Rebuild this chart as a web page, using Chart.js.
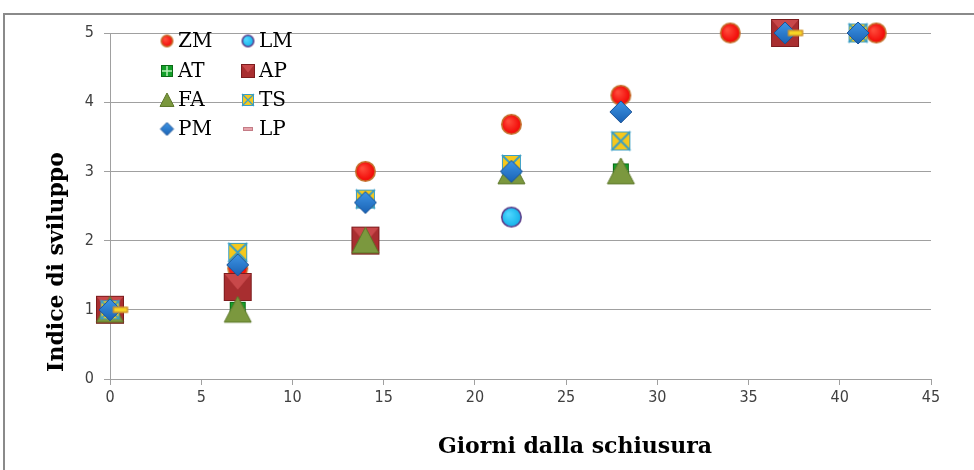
<!DOCTYPE html>
<html>
<head>
<meta charset="utf-8">
<script src="https://cdn.jsdelivr.net/npm/chart.js@4.4.0/dist/chart.umd.min.js"></script>
<style>
  body { margin: 0; background: #fff; }
  canvas { display: block; }
</style>
</head>
<body>
<canvas id="chart" width="974" height="470"></canvas>
<script>
// days after hatching, and development index per series (null = no point)
const days = [0, 7, 14, 22, 28, 34, 37, 41, 42];
const ZM = [1, 1.6, 3, 3.68, 4.1, 5, null, null, 5];
const LM = [1, null, null, 2.34, null, null, null, null, null];
const AT = [1, 1, 2, 3, 3, null, null, null, null];
const AP = [1, 1.33, 2, null, null, null, 5, null, null];
const FA = [1, 1, 2, 3, 3, null, null, null, null];
const TS = [1, 1.83, 2.6, 3.1, 3.44, null, null, 5, null];
const PM = [1, 1.65, 2.55, 3, 3.86, null, 5, 5, null];
const LP = [1, null, null, null, null, null, 5, null, null];

const seriesNames = ["ZM", "LM", "AT", "AP", "FA", "TS", "PM", "LP"];
const seriesValues = [ZM, LM, AT, AP, FA, TS, PM, LP];
const xTicks = [0, 5, 10, 15, 20, 25, 30, 35, 40, 45];
const yTicks = [0, 1, 2, 3, 4, 5];

// marker look for each series: kind, size in the plot, size in the legend
const markerKinds = ["zm", "lm", "at", "ap", "fa", "ts", "pm", "lp"];
const plotSizes = [21, 21, 16, 28, 27, 19, 22, 15];
const legendSizes = [13, 13, 12, 14, 14, 12, 13, 10];

function makeMarker(kind, s, legend) {
  const pad = 3;
  const c = document.createElement("canvas");
  // the dash marker sits to the right of its point, as in the original
  const shift = (kind === "lp" && !legend) ? s + 4 : 0;
  c.width = s + pad * 2 + shift * 2;
  c.height = s + pad * 2;
  const ctx = c.getContext("2d");
  const cx = c.width / 2 + (shift ? shift / 2 + 1 : 0), cy = c.height / 2, r = s / 2;
  ctx.lineJoin = "miter";
  if (kind === "zm" || kind === "lm") {
    const g = ctx.createRadialGradient(cx - r * 0.3, cy - r * 0.3, 1, cx, cy, r);
    if (kind === "zm") { g.addColorStop(0, "#ff4a3a"); g.addColorStop(1, "#f00000"); }
    else { g.addColorStop(0, "#4fd6ff"); g.addColorStop(1, "#10b0e8"); }
    ctx.beginPath();
    ctx.arc(cx, cy, r - 0.8, 0, Math.PI * 2);
    ctx.fillStyle = g;
    ctx.fill();
    ctx.lineWidth = 1.6;
    ctx.strokeStyle = kind === "zm" ? "#c4702c" : "#5b3f8c";
    ctx.stroke();
  } else if (kind === "at") {
    ctx.fillStyle = "#13a02a";
    ctx.fillRect(cx - r, cy - r, s, s);
    ctx.strokeStyle = "#0b6a16";
    ctx.lineWidth = 1;
    ctx.strokeRect(cx - r + 0.5, cy - r + 0.5, s - 1, s - 1);
    ctx.strokeStyle = "#b8f0b8";
    ctx.lineWidth = Math.max(1, s / 8);
    ctx.beginPath();
    ctx.moveTo(cx, cy - r + 1); ctx.lineTo(cx, cy + r - 1);
    ctx.moveTo(cx - r + 1, cy); ctx.lineTo(cx + r - 1, cy);
    ctx.stroke();
  } else if (kind === "ap") {
    ctx.fillStyle = "#a82e30";
    ctx.fillRect(cx - r, cy - r, s, s);
    ctx.fillStyle = "#c8484a";
    ctx.beginPath();
    ctx.moveTo(cx - r, cy - r); ctx.lineTo(cx + r, cy - r); ctx.lineTo(cx, cy + r * 0.2);
    ctx.closePath();
    ctx.fill();
    ctx.strokeStyle = "#7c1c1e";
    ctx.lineWidth = 1;
    ctx.strokeRect(cx - r + 0.5, cy - r + 0.5, s - 1, s - 1);
  } else if (kind === "fa") {
    ctx.beginPath();
    ctx.moveTo(cx, cy - r);
    ctx.lineTo(cx + r, cy + r * 0.92);
    ctx.lineTo(cx - r, cy + r * 0.92);
    ctx.closePath();
    ctx.fillStyle = "#7b983e";
    ctx.fill();
    ctx.strokeStyle = "#5c7628";
    ctx.lineWidth = 1;
    ctx.stroke();
  } else if (kind === "ts") {
    ctx.fillStyle = "#f6c81c";
    ctx.fillRect(cx - r, cy - r, s, s);
    ctx.strokeStyle = "#3a9ec4";
    ctx.lineWidth = Math.max(1, s / 10);
    ctx.beginPath();
    ctx.moveTo(cx - r, cy - r); ctx.lineTo(cx + r, cy + r);
    ctx.moveTo(cx + r, cy - r); ctx.lineTo(cx - r, cy + r);
    ctx.stroke();
    ctx.lineWidth = 1;
    ctx.strokeRect(cx - r + 0.5, cy - r + 0.5, s - 1, s - 1);
  } else if (kind === "pm") {
    ctx.beginPath();
    ctx.moveTo(cx, cy - r); ctx.lineTo(cx + r, cy); ctx.lineTo(cx, cy + r); ctx.lineTo(cx - r, cy);
    ctx.closePath();
    const g = ctx.createLinearGradient(cx, cy - r, cx, cy + r);
    g.addColorStop(0, "#3f96e6"); g.addColorStop(1, "#1a62b4");
    ctx.fillStyle = g;
    ctx.fill();
    ctx.strokeStyle = "#1a5296";
    ctx.lineWidth = 1;
    ctx.stroke();
  } else if (kind === "lp") {
    const h = legend ? 4 : 6;
    ctx.fillStyle = legend ? "#e6a4ac" : "#f6d424";
    ctx.fillRect(cx - r, cy - h / 2, s, h);
    ctx.strokeStyle = legend ? "#c47c86" : "#c27a2e";
    ctx.lineWidth = 1;
    ctx.strokeRect(cx - r + 0.5, cy - h / 2 + 0.5, s - 1, h - 1);
  }
  return c;
}

const plotMarkers = markerKinds.map((k, i) => makeMarker(k, plotSizes[i], false));
const legendMarkers = markerKinds.map((k, i) => makeMarker(k, legendSizes[i], true));

const datasets = seriesNames.map((name, i) => ({
  label: name,
  data: days.map((d, j) => ({ x: d, y: seriesValues[i][j] })).filter(p => p.y !== null),
  pointStyle: plotMarkers[i],
  pointRadius: 5,
  pointHoverRadius: 5,
  showLine: false,
  clip: false,
  order: seriesNames.length - i   // later series drawn on top
}));

const gridColor = "#a0a0a0";

const decor = {
  id: "decor",
  afterDraw(chart) {
    const ctx = chart.ctx;
    ctx.save();
    // outer chart frame (cropped)
    ctx.strokeStyle = "#8a8a8a";
    ctx.lineWidth = 2;
    ctx.beginPath();
    ctx.moveTo(974, 14);
    ctx.lineTo(4, 14);
    ctx.lineTo(4, 470);
    ctx.stroke();

    // axis titles
    ctx.fillStyle = "#000";
    ctx.font = "bold 22px 'DejaVu Serif'";
    ctx.textAlign = "center";
    ctx.textBaseline = "middle";
    ctx.fillText("Giorni dalla schiusura", 575, 447);
    ctx.save();
    ctx.translate(57, 262);
    ctx.rotate(-Math.PI / 2);
    ctx.fillText("Indice di sviluppo", 0, 0);
    ctx.restore();

    // in-plot legend, two columns
    const colX = [167, 248];
    const rowY = [41, 71, 100, 129];
    ctx.font = "20px 'DejaVu Serif'";
    ctx.textAlign = "left";
    seriesNames.forEach((name, i) => {
      const x = colX[i % 2], y = rowY[Math.floor(i / 2)];
      const m = legendMarkers[i];
      ctx.drawImage(m, x - m.width / 2, y - m.height / 2);
      ctx.fillText(name, x + 11, y + 1);
    });
    ctx.restore();
  }
};

new Chart(document.getElementById("chart"), {
  type: "scatter",
  data: { datasets },
  options: {
    responsive: false,
    devicePixelRatio: 1,
    animation: false,
    events: [],
    layout: { padding: { left: 0, right: 43, top: 33, bottom: 0 } },
    plugins: { legend: { display: false }, tooltip: { enabled: false } },
    scales: {
      x: {
        type: "linear",
        min: xTicks[0],
        max: xTicks[xTicks.length - 1],
        afterFit(s) { s.height = 91; },
        afterBuildTicks(s) { s.ticks = xTicks.map(v => ({ value: v })); },
        ticks: {
          padding: 3,
          color: "#404040",
          font: { family: "'Liberation Sans Narrow', 'DejaVu Sans Condensed', sans-serif", size: 16 }
        },
        grid: { drawOnChartArea: false, drawTicks: true, tickLength: 6, color: gridColor },
        border: { display: true, color: gridColor, width: 1 }
      },
      y: {
        type: "linear",
        min: yTicks[0],
        max: yTicks[yTicks.length - 1],
        afterFit(s) { s.width = 110; },
        afterBuildTicks(s) { s.ticks = yTicks.map(v => ({ value: v })); },
        ticks: {
          padding: 10,
          color: "#404040",
          font: { family: "'Liberation Sans Narrow', 'DejaVu Sans Condensed', sans-serif", size: 16 }
        },
        grid: { color: gridColor, tickLength: 6 },
        border: { display: true, color: gridColor, width: 1 }
      }
    }
  },
  plugins: [decor]
});
</script>
</body>
</html>
